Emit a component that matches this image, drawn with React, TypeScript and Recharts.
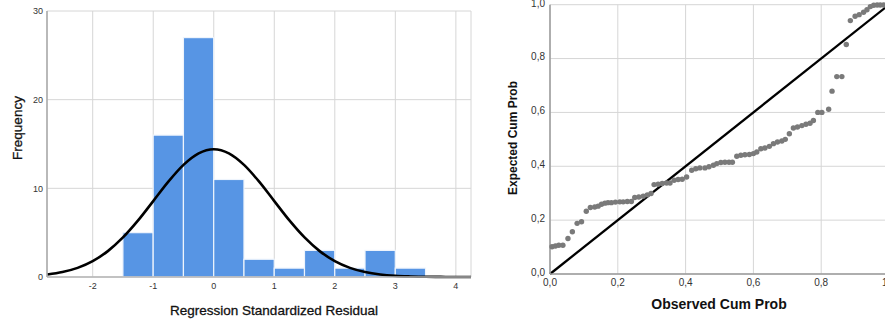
import {
  ComposedChart,
  ScatterChart,
  Bar,
  Line,
  Scatter,
  XAxis,
  YAxis,
  CartesianGrid,
  ReferenceLine,
} from 'recharts';

// histogram of residuals
const histX = [-2.75, -2.5, -2.25, -2, -1.75, -1.5, -1.25, -1, -0.75, -0.5, -0.25, 0, 0.25, 0.5, 0.75, 1, 1.25, 1.5, 1.75, 2, 2.25, 2.5, 2.75, 3, 3.25, 3.5, 3.75, 4, 4.25];
const normalCurve = [0.28, 0.56, 1.03, 1.79, 2.92, 4.46, 6.38, 8.56, 10.75, 12.64, 13.94, 14.4, 13.94, 12.64, 10.75, 8.56, 6.38, 4.46, 2.92, 1.79, 1.03, 0.56, 0.28, 0.13, 0.06, 0.02, 0.01, 0, 0];
const binCenters = [-1.25, -0.75, -0.25, 0.25, 0.75, 1.25, 1.75, 2.25, 2.75, 3.25];
const binCounts = [5, 16, 27, 11, 2, 1, 3, 1, 3, 1];
const histXTicks = [-2, -1, 0, 1, 2, 3, 4];
const histYTicks = [0, 10, 20, 30];

// P-P plot
const observedCum = [0.006, 0.016, 0.026, 0.038, 0.053, 0.066, 0.08, 0.093, 0.107, 0.119, 0.132, 0.142, 0.152, 0.162, 0.171, 0.181, 0.193, 0.206, 0.216, 0.228, 0.24, 0.25, 0.262, 0.275, 0.287, 0.298, 0.307, 0.319, 0.331, 0.344, 0.354, 0.366, 0.378, 0.39, 0.403, 0.418, 0.43, 0.442, 0.457, 0.469, 0.482, 0.492, 0.504, 0.516, 0.528, 0.538, 0.551, 0.563, 0.575, 0.588, 0.6, 0.61, 0.622, 0.634, 0.647, 0.659, 0.671, 0.684, 0.694, 0.706, 0.718, 0.73, 0.743, 0.755, 0.767, 0.777, 0.79, 0.802, 0.822, 0.832, 0.846, 0.861, 0.874, 0.886, 0.9, 0.912, 0.925, 0.935, 0.945, 0.955, 0.965, 0.974, 0.984];
const expectedCum = [0.101, 0.104, 0.107, 0.107, 0.132, 0.157, 0.188, 0.194, 0.233, 0.247, 0.249, 0.252, 0.259, 0.263, 0.265, 0.265, 0.267, 0.268, 0.268, 0.269, 0.269, 0.284, 0.286, 0.289, 0.294, 0.299, 0.332, 0.333, 0.336, 0.338, 0.338, 0.348, 0.351, 0.352, 0.36, 0.385, 0.391, 0.394, 0.394, 0.398, 0.404, 0.41, 0.414, 0.415, 0.415, 0.415, 0.437, 0.441, 0.443, 0.444, 0.447, 0.453, 0.465, 0.468, 0.474, 0.484, 0.49, 0.494, 0.5, 0.521, 0.542, 0.546, 0.551, 0.556, 0.56, 0.57, 0.6, 0.6, 0.612, 0.679, 0.733, 0.733, 0.852, 0.941, 0.957, 0.963, 0.972, 0.981, 0.993, 0.998, 0.999, 0.999, 0.999];
const ppTicks = [0, 0.2, 0.4, 0.6, 0.8, 1];

const FONT = '"Liberation Sans", Arial, sans-serif';

const H_W = 480;
const H_MARGIN = { top: 11, right: 9, bottom: 23, left: 0 };
const H_YAXIS_W = 47;
const H_DOMAIN: [number, number] = [-2.755, 4.25];
const BIN_WIDTH = 0.5;
const binPx = ((H_W - H_MARGIN.left - H_MARGIN.right - H_YAXIS_W) / (H_DOMAIN[1] - H_DOMAIN[0])) * BIN_WIDTH;

const histData = histX.map((x, i) => {
  const k = binCenters.indexOf(x);
  return { x, curve: normalCurve[i], freq: k >= 0 ? binCounts[k] : null };
});

const ppData = observedCum.map((obs, i) => ({ obs, exp: expectedCum[i] }));

const BinRect = (p: any) => {
  if (p.value == null || !p.height) return <g />;
  const cx = p.x + p.width / 2;
  return (
    <rect
      x={cx - binPx / 2}
      y={p.y}
      width={binPx}
      height={p.height}
      fill="#5795e4"
      stroke="#eef4fc"
      strokeWidth={1.2}
    />
  );
};

const Dot = (p: any) => <circle cx={p.cx} cy={p.cy} r={2.7} fill="#7a7a7a" />;

const commaFmt = (v: number) => v.toFixed(1).replace('.', ',');

const titleStyle: React.CSSProperties = {
  position: 'absolute',
  whiteSpace: 'nowrap',
  fontFamily: FONT,
  color: '#111',
  transform: 'translate(-50%, -50%)',
};

export default function App() {
  return (
    <div
      style={{
        position: 'absolute',
        left: 0,
        top: 0,
        width: 885,
        height: 320,
        overflow: 'hidden',
        background: '#fff',
        fontFamily: FONT,
      }}
    >
      <div style={{ position: 'absolute', left: 0, top: 0 }}>
        <ComposedChart width={H_W} height={320} data={histData} margin={H_MARGIN}>
          <CartesianGrid stroke="#d6d6d6" strokeWidth={1} />
          <XAxis
            dataKey="x"
            type="number"
            domain={H_DOMAIN}
            allowDataOverflow
            ticks={histXTicks}
            height={20}
            tickSize={0}
            tickMargin={6}
            tick={{ fontSize: 9, fill: '#333', fontFamily: FONT }}
            axisLine={{ stroke: '#b5b5b5', strokeWidth: 1.5 }}
            tickLine={false}
          />
          <YAxis
            type="number"
            domain={[0, 30]}
            ticks={histYTicks}
            width={H_YAXIS_W}
            tickSize={0}
            tickMargin={4}
            tick={{ fontSize: 9, fill: '#333', fontFamily: FONT }}
            axisLine={{ stroke: '#a8a8a8', strokeWidth: 1.5 }}
            tickLine={false}
          />
          <Bar dataKey="freq" shape={BinRect} isAnimationActive={false} />
          <Line
            dataKey="curve"
            type="monotone"
            stroke="#000"
            strokeWidth={2.6}
            dot={false}
            isAnimationActive={false}
          />
        </ComposedChart>
      </div>
      <div style={{ ...titleStyle, left: 274, top: 310, fontSize: 13.5, WebkitTextStroke: '0.3px #111' }}>
        Regression Standardized Residual
      </div>
      <div style={{ ...titleStyle, left: 17, top: 128, fontSize: 13.5, WebkitTextStroke: '0.3px #111', transform: 'translate(-50%, -50%) rotate(-90deg)' }}>
        Frequency
      </div>

      <div style={{ position: 'absolute', left: 490, top: 0 }}>
        <ScatterChart width={410} height={320} margin={{ top: 4.7, right: 11, bottom: 26, left: 0 }}>
          <CartesianGrid stroke="#d6d6d6" strokeWidth={1} />
          <XAxis
            dataKey="obs"
            type="number"
            domain={[0, 1]}
            ticks={ppTicks}
            tickFormatter={commaFmt}
            height={20}
            tickSize={0}
            tickMargin={5}
            tick={{ fontSize: 10, fill: '#333', fontFamily: FONT }}
            axisLine={{ stroke: '#9a9a9a', strokeWidth: 1.5 }}
            tickLine={false}
          />
          <YAxis
            dataKey="exp"
            type="number"
            domain={[0, 1]}
            ticks={ppTicks}
            tickFormatter={commaFmt}
            width={60}
            tickSize={0}
            tickMargin={5}
            tick={{ fontSize: 10, fill: '#333', fontFamily: FONT, dy: -2 }}
            axisLine={{ stroke: '#9a9a9a', strokeWidth: 1.5 }}
            tickLine={false}
          />
          <Scatter data={ppData} shape={Dot} isAnimationActive={false} />
          <ReferenceLine
            segment={[{ x: 0, y: 0 }, { x: 1, y: 1 }]}
            stroke="#000"
            strokeWidth={2.3}
          />
        </ScatterChart>
      </div>
      <div style={{ ...titleStyle, left: 719, top: 304, fontSize: 14, fontWeight: 700 }}>
        Observed Cum Prob
      </div>
      <div style={{ ...titleStyle, left: 513, top: 138, fontSize: 12, fontWeight: 700, transform: 'translate(-50%, -50%) rotate(-90deg)' }}>
        Expected Cum Prob
      </div>
    </div>
  );
}
